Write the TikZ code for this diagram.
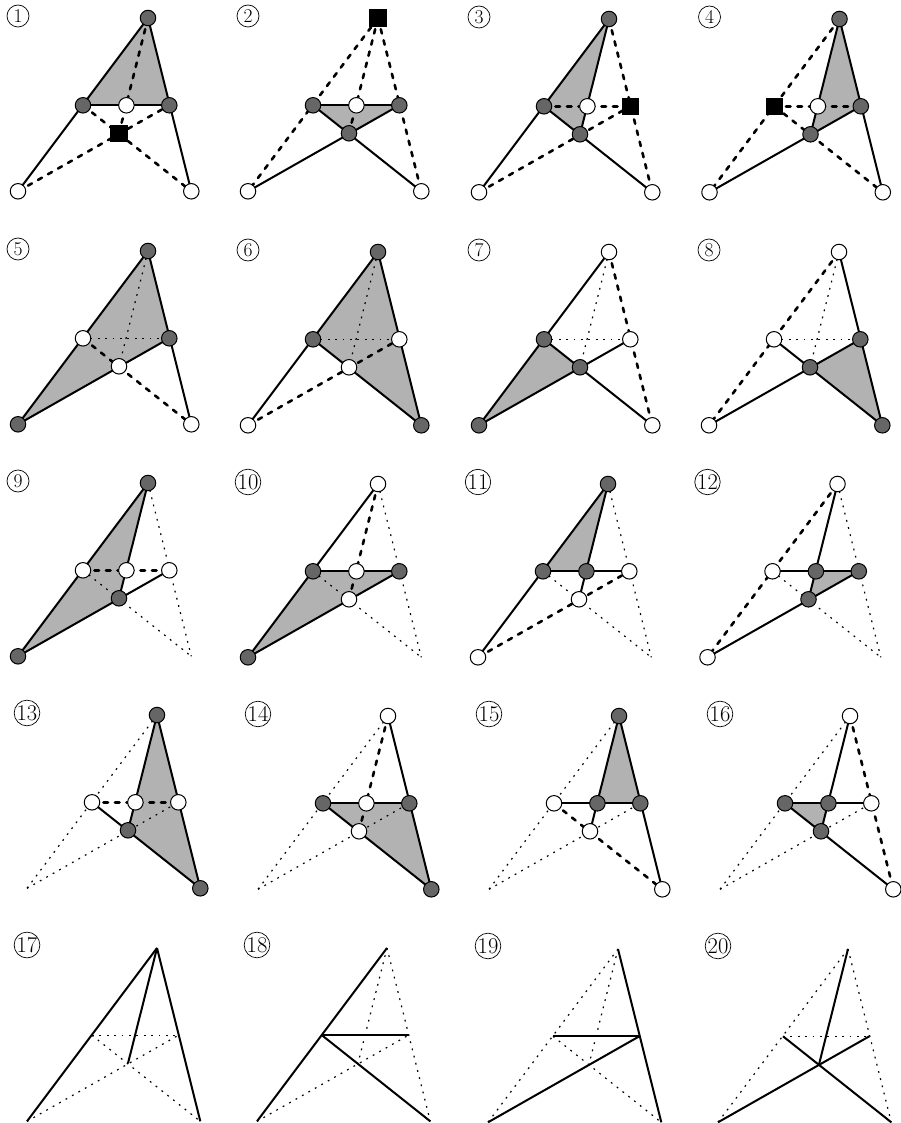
\documentclass[tikz,border=0pt]{standalone}
\usepackage{amsmath,amssymb}

\newcommand{\basepts}{%
 \foreach \c/\x/\y in {T/0/0,L/-65/87.3,M/-21.6/87.3,R/21.3/87.3,X/-29/115.3,BL/-130/173.3,BR/43.3/173.3}{
  \coordinate (\c) at (\x,\y);
 }}
\newcommand{\numtext}[1]{\ifnum#1<10 \fontsize{19.5}{19.5}\selectfont\else\fontsize{22.5}{22.5}\selectfont\fi #1}

\begin{document}
\begin{tikzpicture}[x=1pt,y=-1pt,
 hv/.style={line width=2pt},
 ds/.style={line width=2.6pt,line cap=round,dash pattern=on 4.5pt off 7pt},
 dt/.style={line width=1.2pt,dash pattern=on 1.8pt off 5.6pt},
 dk/.style={circle,draw=black,line width=1pt,fill=black!60,inner sep=0pt,minimum size=15.5pt},
 wh/.style={circle,draw=black,line width=1pt,fill=white,inner sep=0pt,minimum size=15.5pt},
 sq/.style={rectangle,fill=black,inner sep=0pt,minimum size=17.5pt},
 numlab/.style={circle,draw=black,line width=.7pt,inner sep=0pt,minimum size=22pt}]
\useasboundingbox (0,0) rectangle (901,1123);
\foreach \i/\ox/\oy/\reg/\segs/\pts in {
 1/148/18/{(T)--(L)--(R)}/{T/X/ds,BL/R/ds,L/BR/ds,T/BL/hv,T/BR/hv,L/R/hv}/{T/dk,L/dk,R/dk,M/wh,X/sq,BL/wh,BR/wh},
 2/378/18/{(L)--(R)--(X)}/{T/BL/ds,T/X/ds,T/BR/ds,L/R/hv,BL/R/hv,L/BR/hv}/{T/sq,L/dk,R/dk,M/wh,X/dk,BL/wh,BR/wh},
 3/609/19/{(T)--(L)--(X)}/{T/BR/ds,L/R/ds,BL/R/ds,T/BL/hv,T/X/hv,L/BR/hv}/{T/dk,L/dk,R/sq,M/wh,X/dk,BL/wh,BR/wh},
 4/839.5/19/{(T)--(R)--(X)}/{T/BL/ds,L/R/ds,L/BR/ds,T/X/hv,T/BR/hv,BL/R/hv}/{T/dk,L/sq,R/dk,M/wh,X/dk,BL/wh,BR/wh},
 5/148/251/{(T)--(BL)--(X)--(R)}/{T/X/dt,L/R/dt,L/BR/ds,T/BL/hv,T/BR/hv,BL/R/hv}/{T/dk,L/wh,R/dk,X/wh,BL/dk,BR/wh},
 6/378/252/{(T)--(L)--(X)--(BR)--(R)}/{T/X/dt,L/R/dt,BL/R/ds,T/BL/hv,T/BR/hv,L/BR/hv}/{T/dk,L/dk,R/wh,X/wh,BL/wh,BR/dk},
 7/609/252/{(L)--(X)--(BL)}/{T/X/dt,L/R/dt,T/BR/ds,T/BL/hv,BL/R/hv,L/BR/hv}/{T/wh,L/dk,R/wh,X/dk,BL/dk,BR/wh},
 8/839/252/{(R)--(X)--(BR)}/{T/X/dt,L/R/dt,T/BL/ds,T/BR/hv,BL/R/hv,L/BR/hv}/{T/wh,L/wh,R/dk,X/dk,BL/wh,BR/dk},
 9/148/483/{(T)--(BL)--(X)}/{T/BR/dt,L/BR/dt,L/R/ds,T/BL/hv,T/X/hv,BL/R/hv}/{T/dk,L/wh,M/wh,R/wh,X/dk,BL/dk},
 10/378/484/{(L)--(R)--(BL)}/{T/BR/dt,L/BR/dt,T/X/ds,T/BL/hv,L/R/hv,BL/R/hv}/{T/wh,L/dk,M/wh,R/dk,X/wh,BL/dk},
 11/608/484/{(T)--(L)--(M)}/{T/BR/dt,L/BR/dt,BL/R/ds,T/BL/hv,T/X/hv,L/R/hv}/{T/dk,L/dk,M/dk,R/wh,X/wh,BL/wh},
 12/837.5/484/{(M)--(R)--(X)}/{T/BR/dt,L/BR/dt,T/BL/ds,T/X/hv,L/R/hv,BL/R/hv}/{T/wh,L/wh,M/dk,R/dk,X/dk,BL/wh},
 13/157/715/{(T)--(X)--(BR)}/{T/BL/dt,BL/R/dt,L/R/ds,T/X/hv,T/BR/hv,L/BR/hv}/{T/dk,L/wh,M/wh,R/wh,X/dk,BR/dk},
 14/388/716/{(L)--(BR)--(R)}/{T/BL/dt,BL/R/dt,T/X/ds,T/BR/hv,L/R/hv,L/BR/hv}/{T/wh,L/dk,M/wh,R/dk,X/wh,BR/dk},
 15/619/716/{(T)--(M)--(R)}/{T/BL/dt,BL/R/dt,L/BR/ds,T/X/hv,T/BR/hv,L/R/hv}/{T/dk,L/wh,M/dk,R/dk,X/wh,BR/wh},
 16/850/716/{(L)--(M)--(X)}/{T/BL/dt,BL/R/dt,T/BR/ds,T/X/hv,L/R/hv,L/BR/hv}/{T/wh,L/dk,M/dk,R/wh,X/dk,BR/wh}}{
 \begin{scope}[shift={(\ox,\oy)}]
  \basepts
  \node[numlab] (n\i) at (-130,-2) {\numtext{\i}};
  \fill[black!30] \reg -- cycle;
  \foreach \p/\q/\st in \segs {\draw[\st] (\p)--(\q);}
  \foreach \p/\st in \pts {\node[\st] (\p\i) at (\p) {};}
 \end{scope}
}
\foreach \i/\ox/\oy/\segs in {
 17/157/948/{L/R/dt,BL/R/dt,L/BR/dt,T/BL/hv,T/X/hv,T/BR/hv},
 18/387/948/{T/X/dt,T/BR/dt,BL/R/dt,T/BL/hv,L/R/hv,L/BR/hv},
 19/618/949/{T/BL/dt,T/X/dt,L/BR/dt,T/BR/hv,L/R/hv,BL/R/hv},
 20/848/949/{T/BL/dt,T/BR/dt,L/R/dt,T/X/hv,BL/R/hv,L/BR/hv}}{
 \begin{scope}[shift={(\ox,\oy)}]
  \basepts
  \node[numlab] (n\i) at (-130,-3) {\numtext{\i}};
  \foreach \p/\q/\st in \segs {\draw[\st] (\p)--(\q);}
 \end{scope}
}
\end{tikzpicture}
\end{document}
